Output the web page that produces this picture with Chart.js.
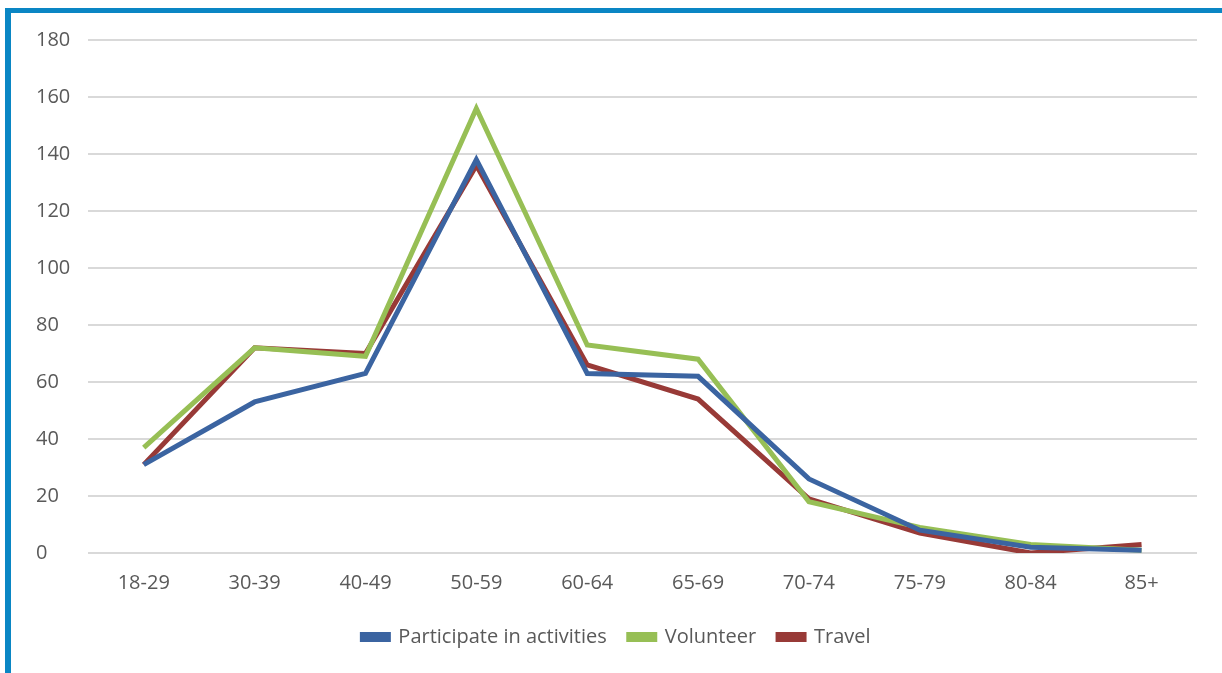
<!DOCTYPE html>
<html>
<head>
<meta charset="utf-8">
<script src="https://cdn.jsdelivr.net/npm/chart.js@4.4.1/dist/chart.umd.min.js"></script>
<style>
  html, body { margin: 0; padding: 0; background: #fff; }
  .frame {
    position: absolute;
    left: 5px;
    top: 8px;
    width: 1217px;
    height: 665px;
    border-top: 5px solid #0a86c4;
    border-left: 6px solid #0a86c4;
    box-sizing: border-box;
  }
  .chart_container {
    position: absolute;
    left: 0;
    top: 0;
    width: 1222px;
    height: 673px;
  }
</style>
</head>
<body>
<div class="frame"></div>
<div class="chart_container">
  <canvas id="ageGraph" width="1222" height="673"></canvas>
</div>
<script>
const ageGroups = ["18-29", "30-39", "40-49", "50-59", "60-64", "65-69", "70-74", "75-79", "80-84", "85+"];
const participateValues = [31, 53, 63, 138, 63, 62, 26, 8, 2, 1];
const volunteerValues = [37, 72, 69, 156, 73, 68, 18, 9, 3, 1];
const travelValues = [31, 72, 70, 136, 66, 54, 19, 7, 0, 3];

const textColor = "#595959";
const gridColor = "#d9d9d9";

function makeDataset(label, data, color) {
  return {
    label: label,
    data: data,
    borderColor: color,
    backgroundColor: color,
    borderWidth: 5,
    pointRadius: 0,
    tension: 0,
  };
}

Chart.defaults.font.family = "'Open Sans', sans-serif";
Chart.defaults.color = textColor;

const ageGraph = document.getElementById("ageGraph");
const graph = new Chart(ageGraph, {
  type: "line",
  data: {
    labels: ageGroups,
    datasets: [
      makeDataset("Participate in activities", participateValues, "#3b64a1"),
      makeDataset("Volunteer", volunteerValues, "#97bf55"),
      makeDataset("Travel", travelValues, "#983a37"),
    ],
  },
  options: {
    responsive: false,
    animation: false,
    layout: {
      padding: { left: 36, right: 25, top: 40, bottom: 16 },
    },
    plugins: {
      tooltip: { enabled: false },
      legend: {
        position: "bottom",
        labels: {
          boxWidth: 26,
          boxHeight: 5,
          padding: 22,
          font: { size: 20 },
          color: textColor,
        },
      },
    },
    scales: {
      x: {
        offset: true,
        grid: { display: false },
        border: { display: false },
        ticks: { font: { size: 20 }, padding: 10, maxRotation: 0 },
      },
      y: {
        min: 0,
        max: 180,
        ticks: {
          stepSize: 20,
          font: { size: 20 },
          crossAlign: "far",
          padding: 9,
        },
        grid: { color: gridColor, lineWidth: 2, drawTicks: false },
        border: { display: false },
      },
    },
  },
});
</script>
</body>
</html>
